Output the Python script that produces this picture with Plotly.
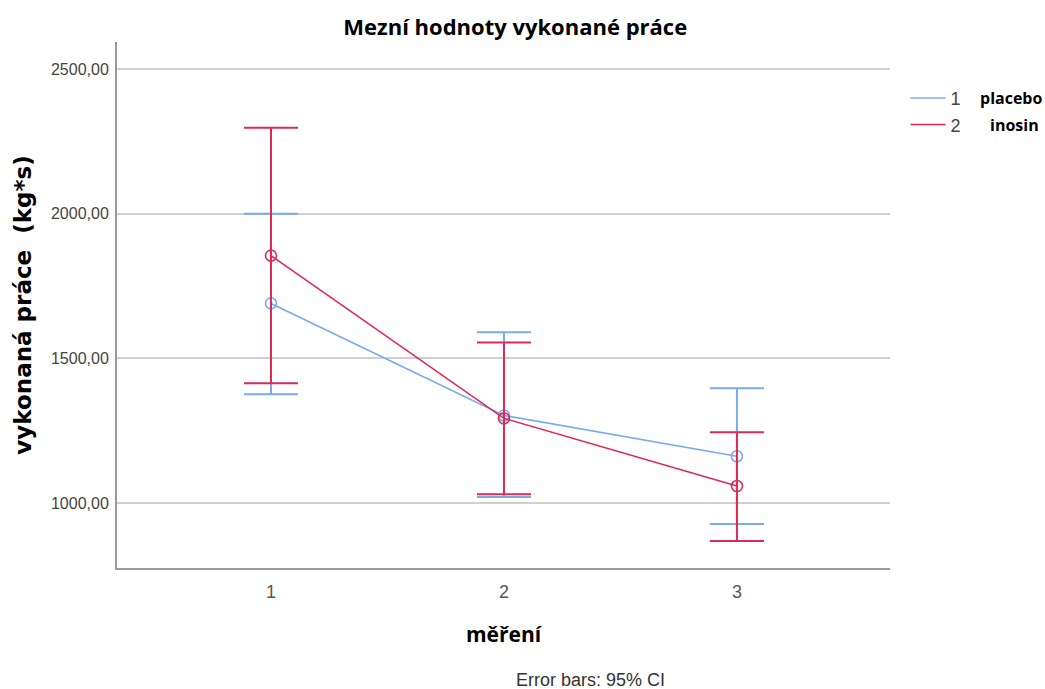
import plotly.graph_objects as go

x_vals = [1, 2, 3]
placebo_mean = [1690, 1303, 1162]
placebo_upper = [2000, 1590, 1397]
placebo_lower = [1376, 1021, 928]
inosin_mean = [1855, 1293, 1059]
inosin_upper = [2297, 1555, 1245]
inosin_lower = [1414, 1031, 869]
y_ticks = [1000, 1500, 2000, 2500]
y_tick_labels = ["1000,00", "1500,00", "2000,00", "2500,00"]

blue = "#78acec"
red = "#dc2a55"

fig = go.Figure()

def add_series(mean, upper, lower, color, name):
    fig.add_trace(go.Scatter(
        x=x_vals, y=mean, mode="lines", name=name,
        line=dict(color=color, width=1.6), showlegend=True,
    ))
    fig.add_trace(go.Scatter(
        x=x_vals, y=mean, mode="markers", name=name, showlegend=False,
        marker=dict(symbol="circle-open", size=11, color=color, line=dict(width=1.6)),
        error_y=dict(type="data", symmetric=False,
                     array=[u - m for u, m in zip(upper, mean)],
                     arrayminus=[m - l for m, l in zip(mean, lower)],
                     color=color, thickness=2, width=27),
    ))

add_series(placebo_mean, placebo_upper, placebo_lower, blue, "1")
add_series(inosin_mean, inosin_upper, inosin_lower, red, "2")

fig.update_layout(
    width=1045, height=689,
    paper_bgcolor="white", plot_bgcolor="white",
    margin=dict(l=117, r=155, t=42, b=121),
    font=dict(family="Liberation Sans, Arial, sans-serif", color="#333"),
    title=dict(text="<b>Mezní hodnoty vykonané práce</b>", x=0.493, xanchor="center",
               y=0.961, yanchor="middle",
               font=dict(family="Open Sans, sans-serif", size=22, color="black")),
    showlegend=True,
    legend=dict(x=1.02, y=0.928, xanchor="left", yanchor="top",
                font=dict(size=18, color="#444"), itemwidth=35,
                tracegroupgap=0, bgcolor="rgba(0,0,0,0)"),
    xaxis=dict(range=[0.339, 3.657], tickvals=x_vals, ticktext=["1", "2", "3"],
               showgrid=False, zeroline=False, showline=True, linecolor="#999",
               linewidth=2, ticks="", ticklabelstandoff=6,
               tickfont=dict(size=18, color="#555"),
               title=dict(text="<b>měření</b>", standoff=27,
                          font=dict(family="Open Sans, sans-serif", size=21, color="black"))),
    yaxis=dict(range=[776, 2593], tickvals=y_ticks, ticktext=y_tick_labels,
               showgrid=True, gridcolor="#cfcfcf", gridwidth=2, zeroline=False,
               showline=True, linecolor="#999", linewidth=2, ticks="",
               ticklabelstandoff=3,
               tickfont=dict(size=16, color="#444"),
               title=dict(text="<b>vykonaná práce  (kg*s)</b>", standoff=13,
                          font=dict(family="DejaVu Sans, sans-serif", size=23, color="black"))),
)

fig.add_annotation(text="<b>placebo</b>", x=1.114, y=0.894, xref="paper", yref="paper",
                   xanchor="left", yanchor="middle", showarrow=False,
                   font=dict(family="Open Sans, sans-serif", size=16, color="black"))
fig.add_annotation(text="<b>inosin</b>", x=1.127, y=0.842, xref="paper", yref="paper",
                   xanchor="left", yanchor="middle", showarrow=False,
                   font=dict(family="Open Sans, sans-serif", size=16, color="black"))
fig.add_annotation(text="Error bars: 95% CI", x=0.612, y=-0.213, xref="paper", yref="paper",
                   xanchor="center", yanchor="middle", showarrow=False,
                   font=dict(size=18, color="#333"))

fig.write_html("out.html", config={"displayModeBar": False},
               post_script="document.body.style.margin='0';")
